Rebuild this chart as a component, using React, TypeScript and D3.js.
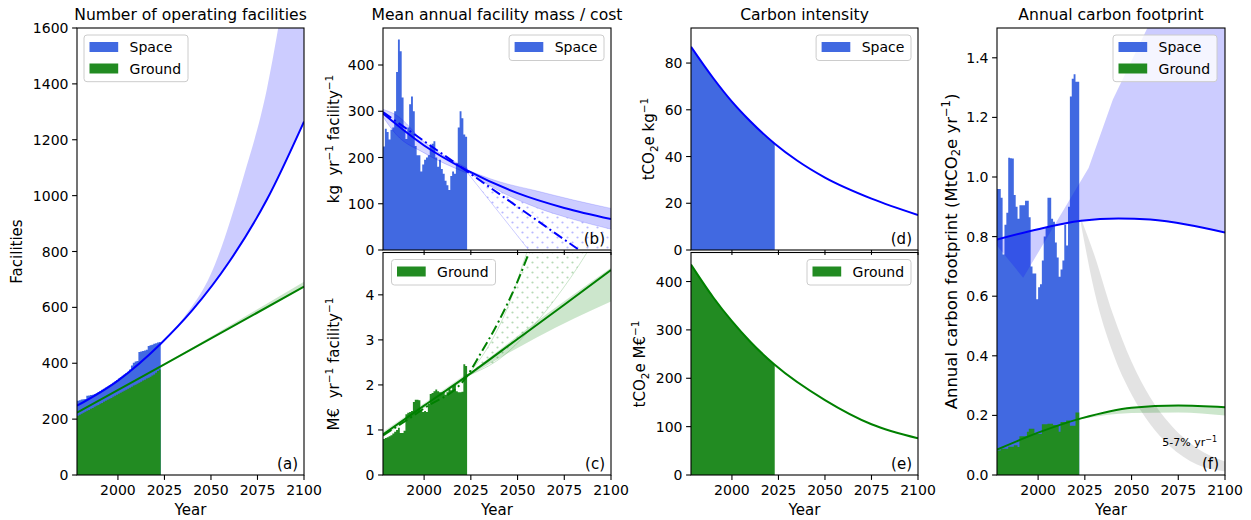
import * as d3 from "d3";

type Pt = [number, number];

// ---- historical yearly values ----
const barYears = d3.range(1978, 2023);
const footYears = d3.range(1978, 2022);

const spaceCount = [266, 268, 270, 271, 272, 284, 285, 286, 287, 290, 293, 297, 301, 305, 309, 313, 317, 321, 325, 330, 335, 340, 345, 350, 355, 360, 365, 370, 378, 392, 402, 406, 408, 440, 442, 444, 446, 448, 462, 464, 466, 470, 472, 474, 476];
const groundCount = [212, 216, 219, 223, 226, 230, 233, 237, 240, 244, 248, 251, 255, 258, 262, 266, 269, 273, 276, 280, 284, 287, 291, 294, 298, 302, 305, 309, 312, 316, 320, 323, 327, 330, 334, 338, 341, 345, 348, 352, 356, 360, 366, 372, 378];
const spaceMass = [224, 262, 255, 239, 260, 265, 300, 385, 455, 430, 330, 260, 240, 265, 315, 332, 300, 225, 205, 205, 170, 185, 195, 200, 205, 225, 230, 235, 200, 180, 195, 175, 165, 150, 140, 130, 160, 170, 165, 185, 265, 300, 285, 250, 245];
const groundCost = [0.8, 0.82, 0.84, 0.86, 0.88, 0.92, 0.96, 1.0, 1.05, 0.93, 0.93, 0.98, 1.35, 1.38, 1.4, 1.42, 1.62, 1.67, 1.67, 1.66, 1.45, 1.4, 1.42, 1.4, 1.58, 1.8, 1.82, 1.86, 1.9, 1.86, 1.84, 1.84, 1.86, 1.78, 1.84, 1.92, 1.88, 1.98, 2.02, 1.86, 1.84, 1.84, 1.85, 2.46, 2.42];
const spaceFootprint = [0.96, 0.96, 0.93, 0.74, 0.84, 0.88, 1.065, 1.063, 1.062, 0.94, 0.9, 0.86, 0.905, 0.905, 0.905, 0.92, 0.92, 0.865, 0.7, 0.676, 0.676, 0.59, 0.63, 0.64, 0.72, 0.8, 0.83, 0.93, 0.93, 0.86, 0.85, 0.78, 0.73, 0.665, 0.69, 0.72, 0.84, 0.77, 0.9, 1.27, 1.33, 1.345, 1.32, 1.32];
const groundFootprint = [0.082, 0.082, 0.088, 0.088, 0.088, 0.088, 0.095, 0.095, 0.095, 0.1, 0.1, 0.094, 0.13, 0.13, 0.13, 0.13, 0.145, 0.155, 0.155, 0.155, 0.14, 0.138, 0.138, 0.138, 0.17, 0.17, 0.17, 0.172, 0.172, 0.172, 0.168, 0.168, 0.168, 0.145, 0.178, 0.178, 0.178, 0.183, 0.183, 0.165, 0.165, 0.165, 0.21, 0.21];

// ---- fits and projections, [year, value] ----
const spaceCountFit: Pt[] = [[1978, 248], [2000, 338], [2023, 470], [2040, 590], [2060, 765], [2080, 985], [2100, 1265]];
const spaceCountUpper: Pt[] = [[2023, 470], [2035, 560], [2050, 720], [2067, 1056], [2080, 1380], [2090, 1750], [2100, 2150]];
const groundCountFit: Pt[] = [[1978, 223], [2023, 389], [2100, 674]];
const groundCountUpper: Pt[] = [[2023, 389], [2100, 692]];

const spaceMassFit: Pt[] = [[1978, 295], [2000, 226], [2023, 172], [2050, 123], [2075, 91], [2100, 67]];
const spaceMassTrend: Pt[] = [[1978, 298], [2023, 170], [2090, -20]];
const spaceMassHistUpper: Pt[] = [[1978, 304], [1985, 292], [2000, 234], [2023, 177]];
const spaceMassHistLower: Pt[] = [[1978, 288], [1985, 250], [2000, 210], [2023, 166]];
const spaceMassUpper: Pt[] = [[2023, 173], [2040, 148], [2060, 128], [2080, 108], [2100, 90]];
const spaceMassLower: Pt[] = [[2023, 170], [2040, 128], [2060, 92], [2080, 66], [2100, 45]];
const spaceMassSteep: Pt[] = [[2023, 168], [2056, 0], [2100, 0]];

const groundCostFit: Pt[] = [[1978, 0.9], [2000, 1.54], [2023, 2.2], [2050, 3.02], [2075, 3.78], [2100, 4.55]];
const groundCostTrend: Pt[] = [[1978, 0.88], [2000, 1.48], [2023, 2.2], [2030, 2.68], [2040, 3.42], [2050, 4.3], [2058, 5.15]];
const groundCostHistUpper: Pt[] = [[1978, 0.96], [2023, 2.26]];
const groundCostHistLower: Pt[] = [[1978, 0.84], [2023, 2.14]];
const groundCostUpper: Pt[] = [[2023, 2.22], [2060, 3.4], [2100, 4.6]];
const groundCostLower: Pt[] = [[2023, 2.17], [2060, 3.05], [2100, 3.85]];
const groundCostSteep: Pt[] = [[2023, 2.2], [2035, 2.9], [2045, 3.75], [2055, 4.94], [2060, 5.5]];
const groundCostShallow: Pt[] = [[2023, 2.2], [2042, 2.63], [2055, 3.15], [2070, 3.9], [2087, 4.93], [2095, 5.5]];

const spaceIntensity: Pt[] = [[1978, 87], [1990, 73.5], [2000, 63.5], [2010, 55], [2023, 45.5], [2035, 38.3], [2050, 31], [2075, 22], [2100, 15]];
const groundIntensity: Pt[] = [[1978, 435], [1990, 367], [2000, 318], [2010, 275], [2023, 228], [2050, 155], [2075, 105], [2100, 76]];

const spaceFootFit: Pt[] = [[1978, 0.79], [2000, 0.825], [2023, 0.853], [2043, 0.861], [2060, 0.857], [2080, 0.84], [2100, 0.814]];
const spaceFootEdge: Pt[] = [[1978, 0.77], [1992, 0.662], [2027, 1.03], [2040, 1.26], [2060, 1.52], [2080, 1.9], [2100, 2.3]];
const reductionUpper: Pt[] = [[2023, 0.86], [2030, 0.74], [2040, 0.54], [2050, 0.38], [2060, 0.26], [2070, 0.175], [2085, 0.09], [2100, 0.045]];
const reductionLower: Pt[] = [[2023, 0.84], [2030, 0.62], [2040, 0.41], [2050, 0.27], [2060, 0.17], [2070, 0.1], [2085, 0.035], [2100, 0.012]];
const groundFootFit: Pt[] = [[1978, 0.085], [2000, 0.142], [2023, 0.19], [2050, 0.226], [2075, 0.233], [2100, 0.227]];
const groundFootLower: Pt[] = [[2023, 0.188], [2050, 0.208], [2075, 0.21], [2100, 0.2]];

const titles = ["Number of operating facilities", "Mean annual facility mass / cost", "Carbon intensity", "Annual carbon footprint"];
const xTicks = [2000, 2025, 2050, 2075, 2100];

const BAR_BLUE = "#4169e1";
const BAR_GREEN = "#228b22";
const LINE_BLUE = "#0000ff";
const LINE_GREEN = "#008000";
const BAND_BLUE = "rgba(0,0,255,0.2)";
const BAND_GREEN = "rgba(0,128,0,0.2)";
const FONT = "'DejaVu Sans', Verdana, sans-serif";

type Frame = { left: number; right: number; top: number; bottom: number };
type Scale = d3.ScaleLinear<number, number>;

const frames: Record<string, Frame> = {
  a: { left: 77, right: 304, top: 28, bottom: 475 },
  b: { left: 383, right: 611, top: 28, bottom: 250 },
  c: { left: 383, right: 611, top: 252.5, bottom: 475 },
  d: { left: 691, right: 918, top: 28, bottom: 250 },
  e: { left: 691, right: 918, top: 252.5, bottom: 475 },
  f: { left: 997, right: 1225, top: 28, bottom: 475 },
};

const smooth = d3.curveMonotoneX;

function linePath(x: Scale, y: Scale, pts: Pt[], curve: d3.CurveFactory = smooth) {
  return d3.line<Pt>().x(d => x(d[0])).y(d => y(d[1])).curve(curve)(pts) || "";
}

// closed shape between two curves
function bandPath(x: Scale, y: Scale, upper: Pt[], lower: Pt[], cu: d3.CurveFactory = smooth, cl: d3.CurveFactory = smooth) {
  const a = linePath(x, y, upper, cu);
  const b = linePath(x, y, [...lower].reverse(), cl);
  return a + "L" + b.slice(1) + "Z";
}

// yearly bars as one stepped shape (no seams)
function barsPath(x: Scale, y: Scale, yrs: number[], vals: number[]) {
  const pts: Pt[] = yrs.map((yr, i) => [yr, vals[i]]);
  pts.push([yrs[yrs.length - 1] + 1, vals[vals.length - 1]]);
  return d3.area<Pt>().x(d => x(d[0])).y0(y(0)).y1(d => y(d[1])).curve(d3.curveStepAfter)(pts) || "";
}

const textW: Record<string, number> = { Space: 42.7, Ground: 51.8 };

function Legend({ x, y, anchor, items }: { x: number; y: number; anchor: "left" | "right"; items: [string, string][] }) {
  const w = 45.6 + d3.max(items, d => textW[d[0]])! + 6.6;
  const h = items.length === 1 ? 25.5 : 46.7;
  const left = anchor === "left" ? x : x - w;
  return (
    <g>
      <rect x={left} y={y} width={w} height={h} rx={3} fill="rgba(255,255,255,0.8)" stroke="#cccccc" strokeWidth={1} />
      {items.map((it, i) => (
        <g key={it[0]}>
          <rect x={left + 5.5} y={y + 7 + i * 21.5} width={28.7} height={10} fill={it[1]} />
          <text x={left + 45.6} y={y + 12 + i * 21.5} dy="0.36em" fontSize={14}>{it[0]}</text>
        </g>
      ))}
    </g>
  );
}

function Axes({ id, f, x, y, yTicks, fmt, xLabels, tag, children }: {
  id: string; f: Frame; x: Scale; y: Scale; yTicks: number[]; fmt: (v: number) => string; xLabels: boolean; tag: string; children: any;
}) {
  return (
    <g>
      <defs>
        <clipPath id={`clip-${id}`}>
          <rect x={f.left} y={f.top} width={f.right - f.left} height={f.bottom - f.top} />
        </clipPath>
      </defs>
      <g clipPath={`url(#clip-${id})`}>{children}</g>
      <text x={f.right - 6} y={f.bottom - 6} textAnchor="end" fontSize={15}>{tag}</text>
      <rect x={f.left} y={f.top} width={f.right - f.left} height={f.bottom - f.top} fill="none" stroke="#000" strokeWidth={1.1} />
      {yTicks.map(t => (
        <g key={t}>
          <line x1={f.left} x2={f.left - 4.9} y1={y(t)} y2={y(t)} stroke="#000" strokeWidth={1.1} />
          <text x={f.left - 8.5} y={y(t)} dy="0.36em" textAnchor="end" fontSize={14}>{fmt(t)}</text>
        </g>
      ))}
      {xTicks.map(t => (
        <g key={t}>
          <line x1={x(t)} x2={x(t)} y1={f.bottom} y2={f.bottom + 4.9} stroke="#000" strokeWidth={1.1} />
          {xLabels && <text x={x(t)} y={f.bottom + 20} textAnchor="middle" fontSize={14}>{t}</text>}
        </g>
      ))}
      {xLabels && <text x={(f.left + f.right) / 2} y={515} textAnchor="middle" fontSize={15}>Year</text>}
    </g>
  );
}

export default function App() {
  const xs = (f: Frame) => d3.scaleLinear().domain([1978, 2100]).range([f.left, f.right]);
  const ys = (f: Frame, max: number) => d3.scaleLinear().domain([0, max]).range([f.bottom, f.top]);
  const int = d3.format("d");

  const xa = xs(frames.a), ya = ys(frames.a, 1600);
  const xb = xs(frames.b), yb = ys(frames.b, 480);
  const xc = xs(frames.c), yc = ys(frames.c, 4.94);
  const xd = xs(frames.d), yd = ys(frames.d, 95);
  const xe = xs(frames.e), ye = ys(frames.e, 460);
  const xf = xs(frames.f), yf = ys(frames.f, 1.5);

  const dashDot = "10,3.5,2,3.5";

  return (
    <svg width={1251} height={520} style={{ position: "absolute", left: 0, top: 0, background: "#fff" }} fontFamily={FONT} fill="#000">
      <defs>
        <pattern id="dotsBlue" width={10} height={10} patternUnits="userSpaceOnUse">
          <circle cx={2.5} cy={2.5} r={1.1} fill="#b8b8ff" />
          <circle cx={7.5} cy={7.5} r={1.1} fill="#b8b8ff" />
        </pattern>
        <pattern id="dotsGreen" width={10} height={10} patternUnits="userSpaceOnUse">
          <circle cx={2.5} cy={2.5} r={1.1} fill="#b5d9b5" />
          <circle cx={7.5} cy={7.5} r={1.1} fill="#b5d9b5" />
        </pattern>
        <clipPath id="hist-d"><rect x={xd(1978)} y={0} width={xd(2023) - xd(1978)} height={520} /></clipPath>
        <clipPath id="hist-e"><rect x={xe(1978)} y={0} width={xe(2023) - xe(1978)} height={520} /></clipPath>
      </defs>

      {/* titles */}
      <text x={(frames.a.left + frames.a.right) / 2} y={19.7} textAnchor="middle" fontSize={15.6}>{titles[0]}</text>
      <text x={(frames.b.left + frames.b.right) / 2} y={19.7} textAnchor="middle" fontSize={15.6}>{titles[1]}</text>
      <text x={(frames.d.left + frames.d.right) / 2} y={19.7} textAnchor="middle" fontSize={15.6}>{titles[2]}</text>
      <text x={(frames.f.left + frames.f.right) / 2} y={19.7} textAnchor="middle" fontSize={15.6}>{titles[3]}</text>

      {/* y labels */}
      <text transform="translate(22,251.5) rotate(-90)" textAnchor="middle" fontSize={15}>Facilities</text>
      <text transform="translate(339,139) rotate(-90)" textAnchor="middle" fontSize={15} style={{ whiteSpace: "pre" }}>
        kg  yr<tspan dy={-6.5} fontSize={10.5}>−1</tspan><tspan dy={6.5}> facility</tspan><tspan dy={-6.5} fontSize={10.5}>−1</tspan>
      </text>
      <text transform="translate(339,364) rotate(-90)" textAnchor="middle" fontSize={15} style={{ whiteSpace: "pre" }}>
        M€  yr<tspan dy={-6.5} fontSize={10.5}>−1</tspan><tspan dy={6.5}> facility</tspan><tspan dy={-6.5} fontSize={10.5}>−1</tspan>
      </text>
      <text transform="translate(654,139) rotate(-90)" textAnchor="middle" fontSize={15}>
        tCO<tspan dy={3.5} fontSize={10.5}>2</tspan><tspan dy={-3.5}>e kg</tspan><tspan dy={-6.5} fontSize={10.5}>−1</tspan>
      </text>
      <text transform="translate(645,364) rotate(-90)" textAnchor="middle" fontSize={15}>
        tCO<tspan dy={3.5} fontSize={10.5}>2</tspan><tspan dy={-3.5}>e M€</tspan><tspan dy={-6.5} fontSize={10.5}>−1</tspan>
      </text>
      <text transform="translate(956.5,251.5) rotate(-90)" textAnchor="middle" fontSize={16.5}>
        Annual carbon footprint (MtCO<tspan dy={3.8} fontSize={11.5}>2</tspan><tspan dy={-3.8}>e yr</tspan><tspan dy={-7} fontSize={11.5}>−1</tspan><tspan dy={7}>)</tspan>
      </text>

      {/* (a) number of facilities */}
      <Axes id="a" f={frames.a} x={xa} y={ya} yTicks={d3.range(0, 1601, 200)} fmt={int} xLabels tag="(a)">
        <path d={barsPath(xa, ya, barYears, spaceCount)} fill={BAR_BLUE} />
        <path d={barsPath(xa, ya, barYears, groundCount)} fill={BAR_GREEN} />
        <path d={bandPath(xa, ya, spaceCountUpper, spaceCountFit.filter(d => d[0] >= 2023))} fill={BAND_BLUE} />
        <path d={bandPath(xa, ya, groundCountUpper, groundCountFit.slice(1), d3.curveLinear, d3.curveLinear)} fill={BAND_GREEN} />
        <path d={linePath(xa, ya, spaceCountFit)} fill="none" stroke={LINE_BLUE} strokeWidth={2} />
        <path d={linePath(xa, ya, groundCountFit, d3.curveLinear)} fill="none" stroke={LINE_GREEN} strokeWidth={2} />
      </Axes>
      <Legend x={84} y={35} anchor="left" items={[["Space", BAR_BLUE], ["Ground", BAR_GREEN]]} />

      {/* (b) space mass */}
      <Axes id="b" f={frames.b} x={xb} y={yb} yTicks={d3.range(0, 401, 100)} fmt={int} xLabels={false} tag="(b)">
        <path d={barsPath(xb, yb, barYears, spaceMass)} fill={BAR_BLUE} />
        <path d={bandPath(xb, yb, spaceMassHistUpper, spaceMassHistLower)} fill="rgba(0,0,255,0.15)" stroke="rgba(0,0,255,0.2)" />
        <path d={bandPath(xb, yb, spaceMassLower, spaceMassSteep, smooth, d3.curveLinear)} fill="url(#dotsBlue)" />
        <path d={linePath(xb, yb, spaceMassSteep.slice(0, 2), d3.curveLinear)} fill="none" stroke="rgba(0,0,255,0.2)" strokeWidth={1} />
        <path d={bandPath(xb, yb, spaceMassUpper, spaceMassLower)} fill={BAND_BLUE} stroke="rgba(0,0,255,0.15)" />
        <path d={linePath(xb, yb, spaceMassFit)} fill="none" stroke={LINE_BLUE} strokeWidth={2} />
        <path d={linePath(xb, yb, spaceMassTrend, d3.curveLinear)} fill="none" stroke={LINE_BLUE} strokeWidth={2} strokeDasharray={dashDot} />
      </Axes>
      <Legend x={604} y={35} anchor="right" items={[["Space", BAR_BLUE]]} />

      {/* (c) ground cost */}
      <Axes id="c" f={frames.c} x={xc} y={yc} yTicks={d3.range(0, 5, 1)} fmt={int} xLabels tag="(c)">
        <path d={barsPath(xc, yc, barYears, groundCost)} fill={BAR_GREEN} />
        <path d={bandPath(xc, yc, groundCostHistUpper, groundCostHistLower, d3.curveLinear, d3.curveLinear)} fill="rgba(0,128,0,0.15)" />
        <path d={bandPath(xc, yc, groundCostSteep, groundCostShallow)} fill="url(#dotsGreen)" />
        <path d={linePath(xc, yc, groundCostSteep)} fill="none" stroke="rgba(0,128,0,0.2)" strokeWidth={1} />
        <path d={linePath(xc, yc, groundCostShallow)} fill="none" stroke="rgba(0,128,0,0.2)" strokeWidth={1} />
        <path d={bandPath(xc, yc, groundCostUpper, groundCostLower)} fill={BAND_GREEN} />
        <path d={linePath(xc, yc, groundCostFit)} fill="none" stroke={LINE_GREEN} strokeWidth={2} />
        <path d={linePath(xc, yc, groundCostTrend)} fill="none" stroke={LINE_GREEN} strokeWidth={2} strokeDasharray={dashDot} />
      </Axes>
      <Legend x={391.5} y={259.5} anchor="left" items={[["Ground", BAR_GREEN]]} />

      {/* (d) space intensity */}
      <Axes id="d" f={frames.d} x={xd} y={yd} yTicks={d3.range(0, 81, 20)} fmt={int} xLabels={false} tag="(d)">
        <path clipPath="url(#hist-d)" d={d3.area<Pt>().x(p => xd(p[0])).y0(yd(0)).y1(p => yd(p[1])).curve(smooth)(spaceIntensity) || ""} fill={BAR_BLUE} />
        <path d={linePath(xd, yd, spaceIntensity)} fill="none" stroke={LINE_BLUE} strokeWidth={2} />
      </Axes>
      <Legend x={911} y={35} anchor="right" items={[["Space", BAR_BLUE]]} />

      {/* (e) ground intensity */}
      <Axes id="e" f={frames.e} x={xe} y={ye} yTicks={d3.range(0, 401, 100)} fmt={int} xLabels tag="(e)">
        <path clipPath="url(#hist-e)" d={d3.area<Pt>().x(p => xe(p[0])).y0(ye(0)).y1(p => ye(p[1])).curve(smooth)(groundIntensity) || ""} fill={BAR_GREEN} />
        <path d={linePath(xe, ye, groundIntensity)} fill="none" stroke={LINE_GREEN} strokeWidth={2} />
      </Axes>
      <Legend x={911} y={259.5} anchor="right" items={[["Ground", BAR_GREEN]]} />

      {/* (f) footprint */}
      <Axes id="f" f={frames.f} x={xf} y={yf} yTicks={d3.range(0, 7.5, 1).map(v => v * 0.2)} fmt={d3.format(".1f")} xLabels tag="(f)">
        <path d={barsPath(xf, yf, footYears, spaceFootprint)} fill={BAR_BLUE} />
        <path d={barsPath(xf, yf, footYears, groundFootprint)} fill={BAR_GREEN} />
        <path d={bandPath(xf, yf, spaceFootEdge, spaceFootFit, d3.curveLinear, smooth)} fill={BAND_BLUE} />
        <path d={bandPath(xf, yf, reductionUpper, reductionLower)} fill="rgba(128,128,128,0.22)" />
        <path d={bandPath(xf, yf, groundFootFit.slice(2), groundFootLower)} fill={BAND_GREEN} />
        <path d={linePath(xf, yf, spaceFootFit)} fill="none" stroke={LINE_BLUE} strokeWidth={2} />
        <path d={linePath(xf, yf, groundFootFit)} fill="none" stroke={LINE_GREEN} strokeWidth={2} />
        <text x={1217} y={446} textAnchor="end" fontSize={11}>5-7% yr<tspan dy={-4.5} fontSize={8}>−1</tspan></text>
      </Axes>
      <Legend x={1217} y={35} anchor="right" items={[["Space", BAR_BLUE], ["Ground", BAR_GREEN]]} />
    </svg>
  );
}
